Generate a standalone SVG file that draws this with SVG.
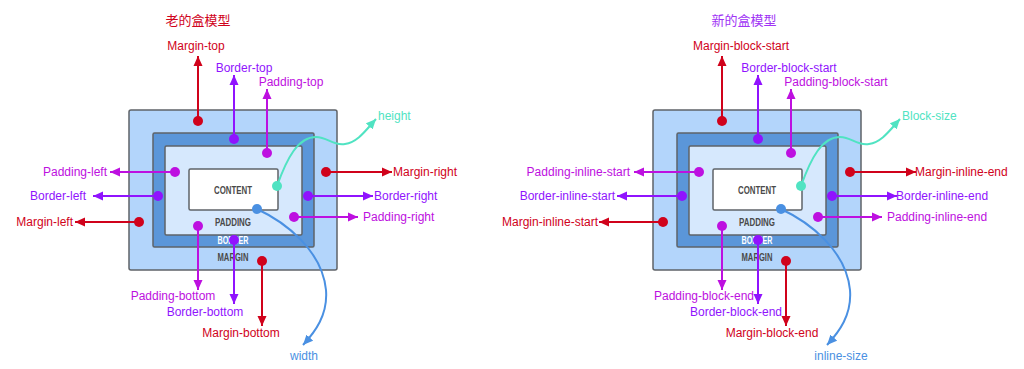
<svg xmlns="http://www.w3.org/2000/svg" width="1024" height="369" viewBox="0 0 1024 369">
<defs>
<style>
.lbl{font-family:"Liberation Sans",Arial,sans-serif;font-size:12px}
.ttl{font-family:"Noto Sans CJK SC","Noto Sans",sans-serif;font-size:13px}
.box{font-family:"Liberation Sans",Arial,sans-serif;font-size:10px;font-weight:bold;fill:#4a4a4a;text-anchor:middle}
.wt{fill:#ffffff}
.red{fill:#d0021b}.pur{fill:#9013fe}.mag{fill:#bd10e0}.teal{fill:#50e3c2}.blue{fill:#4a90e2}
.m{text-anchor:middle}.e{text-anchor:end}
.sr{stroke:#d0021b}.sp{stroke:#9013fe}.sm{stroke:#bd10e0}.st{stroke:#50e3c2}.sb{stroke:#4a90e2}
.ln{fill:none;stroke-width:2}
.frame{stroke:#5f6368;stroke-width:1.5}
</style>
<marker id="ar" markerUnits="userSpaceOnUse" markerWidth="10" markerHeight="10" refX="10" refY="5" orient="auto"><path d="M0,0.5 L10,5 L0,9.5 z" fill="#d0021b"/></marker>
<marker id="ap" markerUnits="userSpaceOnUse" markerWidth="10" markerHeight="10" refX="10" refY="5" orient="auto"><path d="M0,0.5 L10,5 L0,9.5 z" fill="#9013fe"/></marker>
<marker id="am" markerUnits="userSpaceOnUse" markerWidth="10" markerHeight="10" refX="10" refY="5" orient="auto"><path d="M0,0.5 L10,5 L0,9.5 z" fill="#bd10e0"/></marker>
<marker id="at" markerUnits="userSpaceOnUse" markerWidth="10" markerHeight="10" refX="10" refY="5" orient="auto"><path d="M0,0.5 L10,5 L0,9.5 z" fill="#50e3c2"/></marker>
<marker id="ab" markerUnits="userSpaceOnUse" markerWidth="10" markerHeight="10" refX="10" refY="5" orient="auto"><path d="M0,0.5 L10,5 L0,9.5 z" fill="#4a90e2"/></marker>
</defs>
<rect width="1024" height="369" fill="#ffffff"/>

<g id="title-old"><text class="ttl red" x="198" y="25" text-anchor="middle">老的盒模型</text></g>
<g id="title-new"><text class="ttl" x="744" y="25" text-anchor="middle" fill="#a033f5">新的盒模型</text></g>

<g id="box-old">
<rect class="frame" x="129" y="110" width="208" height="160" rx="2" fill="#b3d5fb"/>
<rect class="frame" x="153" y="133" width="161" height="114" rx="1.5" fill="#5b96d9"/>
<rect class="frame" x="165" y="146" width="137" height="89" rx="1.5" fill="#d6e8fd"/>
<rect class="frame" x="189" y="169" width="89" height="41" rx="1.5" fill="#ffffff"/>
<text class="box" x="233" y="194" textLength="38" lengthAdjust="spacingAndGlyphs">CONTENT</text>
<text class="box" x="233" y="226" textLength="36" lengthAdjust="spacingAndGlyphs">PADDING</text>
<text class="box wt" x="233" y="244" textLength="31" lengthAdjust="spacingAndGlyphs">BORDER</text>
<text class="box" x="233" y="261" textLength="31" lengthAdjust="spacingAndGlyphs">MARGIN</text>
</g>

<g id="box-new" transform="translate(524,0)">
<rect class="frame" x="129" y="110" width="208" height="160" rx="2" fill="#b3d5fb"/>
<rect class="frame" x="153" y="133" width="161" height="114" rx="1.5" fill="#5b96d9"/>
<rect class="frame" x="165" y="146" width="137" height="89" rx="1.5" fill="#d6e8fd"/>
<rect class="frame" x="189" y="169" width="89" height="41" rx="1.5" fill="#ffffff"/>
<text class="box" x="233" y="194" textLength="38" lengthAdjust="spacingAndGlyphs">CONTENT</text>
<text class="box" x="233" y="226" textLength="36" lengthAdjust="spacingAndGlyphs">PADDING</text>
<text class="box wt" x="233" y="244" textLength="31" lengthAdjust="spacingAndGlyphs">BORDER</text>
<text class="box" x="233" y="261" textLength="31" lengthAdjust="spacingAndGlyphs">MARGIN</text>
</g>

<g id="connectors-old">
<path class="ln sr" d="M198,121 L198,56" marker-end="url(#ar)"/>
<path class="ln sp" d="M234,139 L234,75" marker-end="url(#ap)"/>
<path class="ln sm" d="M267,153 L267,89" marker-end="url(#am)"/>
<path class="ln sm" d="M175,172 L110,172" marker-end="url(#am)"/>
<path class="ln sp" d="M158,196 L93,196" marker-end="url(#ap)"/>
<path class="ln sr" d="M139,222 L75,222" marker-end="url(#ar)"/>
<path class="ln sr" d="M326,172 L392,172" marker-end="url(#ar)"/>
<path class="ln sp" d="M308,196 L373,196" marker-end="url(#ap)"/>
<path class="ln sm" d="M294,217 L358,217" marker-end="url(#am)"/>
<path class="ln sm" d="M198,226 L198,290" marker-end="url(#am)"/>
<path class="ln sp" d="M234,240 L234,304" marker-end="url(#ap)"/>
<path class="ln sr" d="M262,261 L262,326" marker-end="url(#ar)"/>
<path class="ln st" d="M277,186 C287,158 298,137 316,137 C328,137 332,146 345,144 C358,142 366,130 376,119" marker-end="url(#at)"/>
<path class="ln sb" d="M257,209 C285,222 322,250 326,290 C328,315 315,332 303,345" marker-end="url(#ab)"/>
<circle class="red" cx="198" cy="121" r="5"/>
<circle class="pur" cx="234" cy="139" r="5"/>
<circle class="mag" cx="267" cy="153" r="5"/>
<circle class="mag" cx="175" cy="172" r="5"/>
<circle class="pur" cx="158" cy="196" r="5"/>
<circle class="red" cx="139" cy="222" r="5"/>
<circle class="red" cx="326" cy="172" r="5"/>
<circle class="pur" cx="308" cy="196" r="5"/>
<circle class="mag" cx="294" cy="217" r="5"/>
<circle class="mag" cx="198" cy="226" r="5"/>
<circle class="pur" cx="234" cy="240" r="5"/>
<circle class="red" cx="262" cy="261" r="5"/>
<circle class="teal" cx="277" cy="186" r="5"/>
<circle class="blue" cx="257" cy="209" r="5"/>
</g>

<g id="connectors-new" transform="translate(524,0)">
<path class="ln sr" d="M198,121 L198,56" marker-end="url(#ar)"/>
<path class="ln sp" d="M234,139 L234,75" marker-end="url(#ap)"/>
<path class="ln sm" d="M267,153 L267,89" marker-end="url(#am)"/>
<path class="ln sm" d="M175,172 L110,172" marker-end="url(#am)"/>
<path class="ln sp" d="M158,196 L93,196" marker-end="url(#ap)"/>
<path class="ln sr" d="M139,222 L75,222" marker-end="url(#ar)"/>
<path class="ln sr" d="M326,172 L392,172" marker-end="url(#ar)"/>
<path class="ln sp" d="M308,196 L373,196" marker-end="url(#ap)"/>
<path class="ln sm" d="M294,217 L358,217" marker-end="url(#am)"/>
<path class="ln sm" d="M198,226 L198,290" marker-end="url(#am)"/>
<path class="ln sp" d="M234,240 L234,304" marker-end="url(#ap)"/>
<path class="ln sr" d="M262,261 L262,326" marker-end="url(#ar)"/>
<path class="ln st" d="M277,186 C287,158 298,137 316,137 C328,137 332,146 345,144 C358,142 366,130 376,119" marker-end="url(#at)"/>
<path class="ln sb" d="M257,209 C285,222 322,250 326,290 C328,315 315,332 303,345" marker-end="url(#ab)"/>
<circle class="red" cx="198" cy="121" r="5"/>
<circle class="pur" cx="234" cy="139" r="5"/>
<circle class="mag" cx="267" cy="153" r="5"/>
<circle class="mag" cx="175" cy="172" r="5"/>
<circle class="pur" cx="158" cy="196" r="5"/>
<circle class="red" cx="139" cy="222" r="5"/>
<circle class="red" cx="326" cy="172" r="5"/>
<circle class="pur" cx="308" cy="196" r="5"/>
<circle class="mag" cx="294" cy="217" r="5"/>
<circle class="mag" cx="198" cy="226" r="5"/>
<circle class="pur" cx="234" cy="240" r="5"/>
<circle class="red" cx="262" cy="261" r="5"/>
<circle class="teal" cx="277" cy="186" r="5"/>
<circle class="blue" cx="257" cy="209" r="5"/>
</g>

<g id="labels-old">
<text class="lbl red m" x="196" y="50">Margin-top</text>
<text class="lbl pur m" x="244" y="72">Border-top</text>
<text class="lbl mag m" x="291" y="86">Padding-top</text>
<text class="lbl teal" x="378" y="120">height</text>
<text class="lbl mag e" x="107" y="176">Padding-left</text>
<text class="lbl pur e" x="86" y="200">Border-left</text>
<text class="lbl red e" x="73" y="226">Margin-left</text>
<text class="lbl red" x="393" y="176">Margin-right</text>
<text class="lbl pur" x="374" y="200">Border-right</text>
<text class="lbl mag" x="363" y="221">Padding-right</text>
<text class="lbl mag m" x="173" y="300">Padding-bottom</text>
<text class="lbl pur m" x="205" y="316">Border-bottom</text>
<text class="lbl red m" x="241" y="337">Margin-bottom</text>
<text class="lbl blue m" x="304" y="360">width</text>
</g>

<g id="labels-new">
<text class="lbl red m" x="741" y="50">Margin-block-start</text>
<text class="lbl pur m" x="789" y="72">Border-block-start</text>
<text class="lbl mag m" x="836" y="86">Padding-block-start</text>
<text class="lbl teal" x="902" y="120">Block-size</text>
<text class="lbl mag e" x="630" y="176">Padding-inline-start</text>
<text class="lbl pur e" x="615" y="200">Border-inline-start</text>
<text class="lbl red e" x="598" y="226">Margin-inline-start</text>
<text class="lbl red" x="915" y="176">Margin-inline-end</text>
<text class="lbl pur" x="896" y="200">Border-inline-end</text>
<text class="lbl mag" x="887" y="221">Padding-inline-end</text>
<text class="lbl mag m" x="704" y="300">Padding-block-end</text>
<text class="lbl pur m" x="736" y="316">Border-block-end</text>
<text class="lbl red m" x="772" y="337">Margin-block-end</text>
<text class="lbl blue m" x="841" y="360">inline-size</text>
</g>
</svg>
